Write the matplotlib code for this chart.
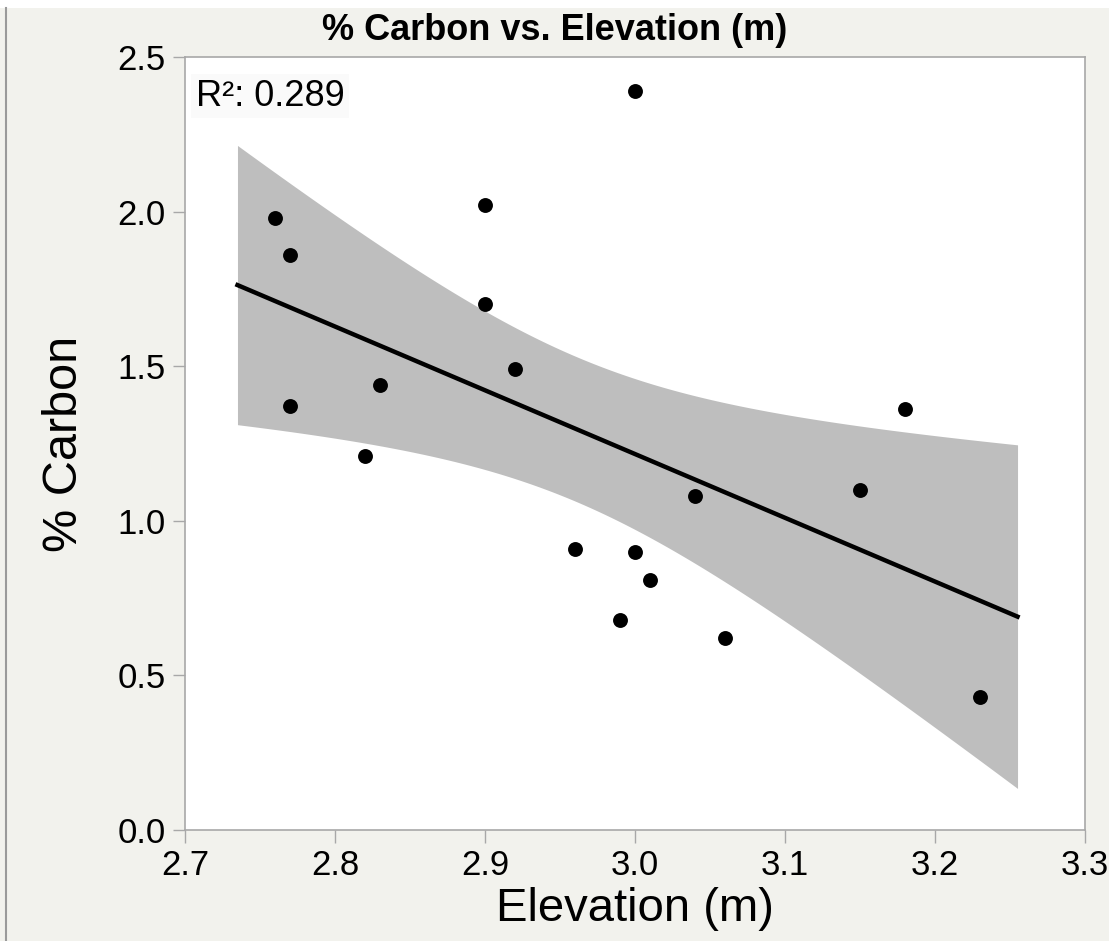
import matplotlib
matplotlib.use("Agg")
import matplotlib.pyplot as plt
from matplotlib.lines import Line2D
from matplotlib.patches import Rectangle
import numpy as np

# elevation (m) and percent carbon for each core
elevation = [2.76, 2.77, 2.77, 2.82, 2.83, 2.90, 2.90, 2.92, 2.96,
             2.99, 3.00, 3.00, 3.01, 3.04, 3.06, 3.15, 3.18, 3.23]
carbon = [1.98, 1.86, 1.37, 1.21, 1.44, 2.02, 1.70, 1.49, 0.91,
          0.68, 2.39, 0.90, 0.81, 1.08, 0.62, 1.10, 1.36, 0.43]

fit_range = [2.735, 3.255]
r2_label = "R²: 0.289"
x_ticks = [2.7, 2.8, 2.9, 3.0, 3.1, 3.2, 3.3]
y_ticks = [0.0, 0.5, 1.0, 1.5, 2.0, 2.5]

BG = "#f2f2ed"
SPINE = "#a8a8a8"
FONT = "Liberation Sans"


def fit_with_band(x, y, x_grid, t_crit=2.12):
    x = np.asarray(x)
    y = np.asarray(y)
    slope, intercept = np.polyfit(x, y, 1)
    resid = y - (slope * x + intercept)
    n = len(x)
    s = np.sqrt(np.sum(resid ** 2) / (n - 2))
    sxx = np.sum((x - x.mean()) ** 2)
    y_hat = slope * x_grid + intercept
    half = t_crit * s * np.sqrt(1.0 / n + (x_grid - x.mean()) ** 2 / sxx)
    return y_hat, y_hat - half, y_hat + half


fig = plt.figure(figsize=(11.09, 9.41), dpi=100, facecolor=BG)
ax = fig.add_axes([0.1668, 0.118, 0.8116, 0.8214])
ax.set_facecolor("white")

grid = np.linspace(fit_range[0], fit_range[1], 200)
y_hat, lo, hi = fit_with_band(elevation, carbon, grid)
ax.fill_between(grid, lo, hi, color="#bebebe", linewidth=0, zorder=1)
ax.plot(grid, y_hat, color="black", linewidth=3.2, zorder=3)
ax.scatter(elevation, carbon, s=115, color="black", linewidths=0, zorder=4)

ax.set_xlim(2.7, 3.3)
ax.set_ylim(0.0, 2.5)
ax.set_xticks(x_ticks)
ax.set_yticks(y_ticks)
ax.set_xticklabels(["{:.1f}".format(v) for v in x_ticks], family=FONT, fontsize=25)
ax.set_yticklabels(["{:.1f}".format(v) for v in y_ticks], family=FONT, fontsize=25)
ax.tick_params(direction="out", length=9, width=1, color=SPINE, pad=5)
for spine in ax.spines.values():
    spine.set_color(SPINE)
    spine.set_linewidth(1.2)

ax.set_xlabel("Elevation (m)", family=FONT, fontsize=34, labelpad=3)
ax.set_ylabel("% Carbon", family=FONT, fontsize=35, labelpad=22)

# title is centred on the whole window, not on the plot area
fig.text(0.5, 0.968, "% Carbon vs. Elevation (m)", family=FONT, fontsize=26,
         fontweight="bold", ha="center", va="center")

ax.text(0.012, 0.972, r2_label, transform=ax.transAxes, family=FONT,
        fontsize=26, ha="left", va="top", zorder=5,
        bbox=dict(boxstyle="square,pad=0.12", facecolor="#fafafa",
                  edgecolor="none"))

# window frame: white strip on top, grey rule on the left
fig.add_artist(Rectangle((0, 0.992), 1, 0.008, transform=fig.transFigure,
                         facecolor="white", edgecolor="none"))
fig.add_artist(Line2D([0.005, 0.005], [0, 0.992], transform=fig.transFigure,
                      color="#9a9a9a", linewidth=1.5))

fig.savefig("out.png", dpi=100, facecolor=BG)
